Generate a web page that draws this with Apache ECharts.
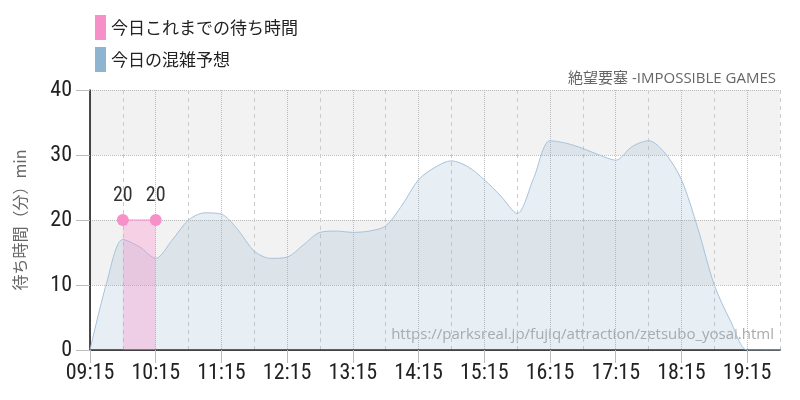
<!DOCTYPE html>
<html><head><meta charset="utf-8">
<script src="https://cdn.jsdelivr.net/npm/echarts@6/dist/echarts.min.js"></script>
<style>html,body{margin:0;padding:0;background:#fff}#c{width:800px;height:400px}</style>
</head><body><div id="c"></div>
<script>
const categories = ['09:15','09:30','09:45','10:00','10:15','10:30','10:45','11:00','11:15','11:30','11:45','12:00','12:15','12:30','12:45','13:00','13:15','13:30','13:45','14:00','14:15','14:30','14:45','15:00','15:15','15:30','15:45','16:00','16:15','16:30','16:45','17:00','17:15','17:30','17:45','18:00','18:15','18:30','18:45','19:00','19:15','19:30','19:45'];
const forecast = [0,10.2,17,15.9,14.1,16.9,20,21.1,20.9,18.5,15.2,14.1,14.3,16.2,18.1,18.3,18.1,18.3,19.1,22.3,26.2,28.1,29.1,28.2,26.2,23.7,21,26.4,32.2,31.8,31,30,29.2,31.3,32.2,30.3,26.2,18.7,10,4.4,0,0,0];
const actual = [null,null,20,20,20,null,null,null,null,null,null,null,null,null,null,null,null,null,null,null,null,null,null,null,null,null,null,null,null,null,null,null,null,null,null,null,null,null,null,null,null,null,null];
const actualMarked = [2,4];
const yTicks = [0,10,20,30,40];
const actualName = '今日これまでの待ち時間';
const forecastName = '今日の混雑予想';
const titleText = '絶望要塞 -IMPOSSIBLE GAMES';
const urlText = 'https://parksreal.jp/fujiq/attraction/zetsubo_yosai.html';
const yName = '待ち時間（分）min';

const numFont = '"Roboto Condensed","Liberation Sans Narrow","DejaVu Sans Condensed","Roboto",sans-serif';
const cjkFont = '"Noto Sans CJK JP","Noto Sans",sans-serif';
const actualData = actual.map((v,i)=> v===null ? null :
  (actualMarked.indexOf(i)>=0 ? v : {value:v, symbol:'none', label:{show:false}}));

const chart = echarts.init(document.getElementById('c'), null, {renderer:'canvas'});
chart.setOption({
  animation:false,
  backgroundColor:'#fff',
  title:{text:titleText,right:19,top:66,textStyle:{fontSize:15,fontWeight:'normal',color:'#666',fontFamily:'"Open Sans","Noto Sans CJK JP",sans-serif'}},
  legend:{orient:'vertical',left:90,top:10,icon:'rect',itemWidth:11,itemHeight:25,itemGap:7,
    data:[actualName,forecastName],
    textStyle:{fontSize:17,color:'#222',fontFamily:cjkFont}},
  grid:{left:90,right:20,top:90,bottom:50},
  graphic:[{type:'text',right:26,top:327,style:{text:urlText,fill:'#aaa',font:'15px "Open Sans",sans-serif'}}],
  xAxis:[{type:'category',data:categories,boundaryGap:false,
    axisLine:{lineStyle:{color:'#111',width:1.5}},
    axisTick:{show:true,interval:(i)=>i%4===0,length:13,lineStyle:{color:'#bbb'}},
    axisLabel:{interval:(i)=>i%4===0,margin:12,fontSize:22,color:'#222',fontFamily:numFont},
    splitLine:{show:true,interval:(i)=>i%4===0,lineStyle:{type:'dotted',color:'#bbb'}}},
   {type:'category',data:categories,boundaryGap:false,position:'bottom',
    axisLine:{show:false},axisTick:{show:false},axisLabel:{show:false},
    splitLine:{show:true,interval:(i)=>i%4===2,lineStyle:{type:[4,4],color:'#ccc'}}}],
  yAxis:{type:'value',min:yTicks[0],max:yTicks[yTicks.length-1],interval:10,
    name:yName,nameLocation:'middle',nameGap:62,nameRotate:90,
    nameTextStyle:{fontSize:16,color:'#666',fontFamily:cjkFont},
    axisLine:{show:true,lineStyle:{color:'#111',width:1.5}},
    axisTick:{show:true,length:14,lineStyle:{color:'#bbb'}},
    axisLabel:{margin:18,fontSize:22,color:'#222',fontFamily:numFont},
    splitLine:{lineStyle:{type:'dotted',color:'#bbb'}},
    splitArea:{show:true,areaStyle:{color:['rgba(255,255,255,0)','#f2f2f2']}}},
  series:[
    {name:forecastName,type:'line',data:forecast,smooth:0.3,symbol:'none',
      itemStyle:{color:'#8fb4d0'},lineStyle:{color:'#a6c2db',width:1},
      areaStyle:{color:'rgba(143,180,208,0.3)'},z:2},
    {name:actualName,type:'line',data:actualData,symbol:'circle',symbolSize:12,showAllSymbol:true,
      itemStyle:{color:'#f78fc8'},lineStyle:{color:'#f78fc8',width:1},
      areaStyle:{color:'rgba(255,136,200,0.45)'},
      label:{show:true,position:'top',distance:8,fontSize:20,color:'#333',fontFamily:numFont},z:3}
  ]
});
</script></body></html>
